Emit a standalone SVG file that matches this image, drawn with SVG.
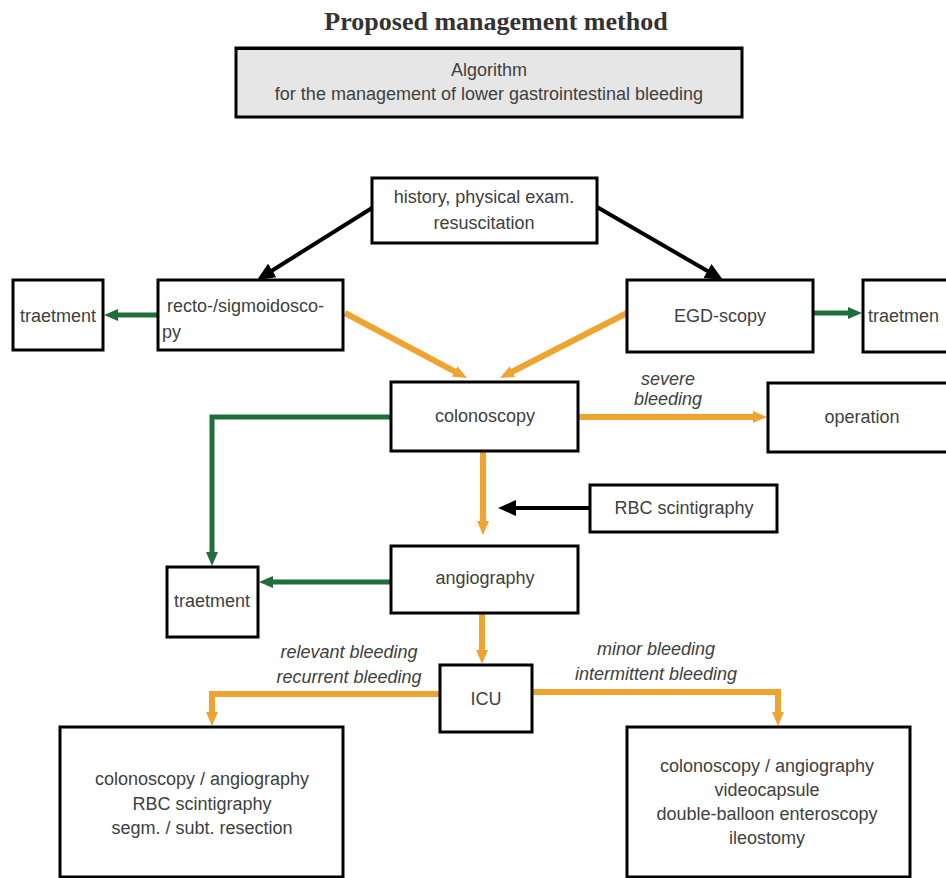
<svg xmlns="http://www.w3.org/2000/svg" width="946" height="878" viewBox="0 0 946 878">
<style>
.box{fill:#fff;stroke:#000;stroke-width:3}
.t{font-family:"Liberation Sans",Arial,sans-serif;font-size:18px;fill:#404040}
.c{text-anchor:middle}
.i{font-style:italic}
.title{font-family:"Liberation Serif","Times New Roman",serif;font-size:26px;font-weight:bold;fill:#333;text-anchor:middle}
.bk{stroke:#000;stroke-width:4;fill:none}
.gr{stroke:#1f6e3b;stroke-width:5;fill:none}
.or{stroke:#efa430;stroke-width:6;fill:none}
</style>
<defs>
<marker id="ab" markerWidth="18" markerHeight="16" refX="2" refY="8" orient="auto" markerUnits="userSpaceOnUse"><path d="M0,0 L18,8 L0,16 z" fill="#000"/></marker>
<marker id="ag" markerWidth="14" markerHeight="12" refX="2" refY="6" orient="auto" markerUnits="userSpaceOnUse"><path d="M0,0 L14,6 L0,12 z" fill="#1f6e3b"/></marker>
<marker id="ao" markerWidth="14" markerHeight="12" refX="2" refY="6" orient="auto" markerUnits="userSpaceOnUse"><path d="M0,0 L14,6 L0,12 z" fill="#efa430"/></marker>
</defs>
<rect width="946" height="878" fill="#fff"/>
<text class="title" x="496" y="30">Proposed management method</text>
<g id="algorithm">
<rect x="236" y="48" width="506" height="69" fill="#e6e6e6" stroke="#000" stroke-width="3"/>
<line x1="236" y1="49" x2="742" y2="49" stroke="#000" stroke-width="2"/>
<text class="t c" x="489" y="76">Algorithm</text>
<text class="t c" x="489" y="100">for the management of lower gastrointestinal bleeding</text>
</g>
<g id="connectors">
<line class="bk" x1="372" y1="208" x2="270.6" y2="271.5" marker-end="url(#ab)"/>
<line class="bk" x1="597" y1="207" x2="709.2" y2="272" marker-end="url(#ab)"/>
<line class="bk" x1="590" y1="508" x2="514" y2="508" marker-end="url(#ab)"/>
<line class="gr" x1="158" y1="315" x2="116" y2="315" marker-end="url(#ag)"/>
<line class="gr" x1="813" y1="313" x2="850" y2="313" marker-end="url(#ag)"/>
<polyline class="gr" points="391,417 212,417 212,554" marker-end="url(#ag)"/>
<line class="gr" x1="391" y1="582" x2="271" y2="582" marker-end="url(#ag)"/>
<line class="or" x1="345" y1="313" x2="456.4" y2="372.4" marker-end="url(#ao)"/>
<line class="or" x1="627" y1="313" x2="510.7" y2="372.5" marker-end="url(#ao)"/>
<line class="or" x1="578" y1="417" x2="755" y2="417" marker-end="url(#ao)"/>
<line class="or" x1="483" y1="451" x2="483" y2="523" marker-end="url(#ao)"/>
<line class="or" x1="482" y1="613" x2="482" y2="652" marker-end="url(#ao)"/>
<polyline class="or" points="440,694 212,694 212,714" marker-end="url(#ao)"/>
<polyline class="or" points="532,692 778,692 778,714" marker-end="url(#ao)"/>
<text class="t c i" x="668" y="385">severe</text>
<text class="t c i" x="668" y="405">bleeding</text>
<text class="t c i" x="349" y="658">relevant bleeding</text>
<text class="t c i" x="349" y="683">recurrent bleeding</text>
<text class="t c i" x="656" y="655">minor bleeding</text>
<text class="t c i" x="656" y="680">intermittent bleeding</text>
</g>
<g id="history">
<rect class="box" x="372" y="178" width="225" height="65"/>
<text class="t c" x="484" y="203">history, physical exam.</text>
<text class="t c" x="484" y="229">resuscitation</text>
</g>
<g id="recto">
<rect class="box" x="158" y="280" width="185" height="70"/>
<text class="t" x="167" y="312">recto-/sigmoidosco-</text>
<text class="t" x="162" y="338">py</text>
</g>
<g id="treatment-left">
<rect class="box" x="13" y="280" width="90" height="70"/>
<text class="t c" x="58" y="322">traetment</text>
</g>
<g id="egd">
<rect class="box" x="627" y="280" width="186" height="72"/>
<text class="t c" x="720" y="322">EGD-scopy</text>
</g>
<g id="treatment-right">
<rect class="box" x="863" y="280" width="90" height="72"/>
<text class="t" x="868" y="322">traetmen</text>
</g>
<g id="colonoscopy">
<rect class="box" x="391" y="382" width="187" height="69"/>
<text class="t c" x="485" y="422">colonoscopy</text>
</g>
<g id="operation">
<rect class="box" x="768" y="383" width="190" height="69"/>
<text class="t c" x="862" y="423">operation</text>
</g>
<g id="rbc">
<rect class="box" x="590" y="485" width="187" height="47"/>
<text class="t c" x="684" y="514">RBC scintigraphy</text>
</g>
<g id="angiography">
<rect class="box" x="391" y="546" width="187" height="67"/>
<text class="t c" x="485" y="584">angiography</text>
</g>
<g id="treatment-mid">
<rect class="box" x="167" y="567" width="91" height="70"/>
<text class="t c" x="212" y="607">traetment</text>
</g>
<g id="icu">
<rect class="box" x="440" y="665" width="92" height="67"/>
<text class="t c" x="486" y="705">ICU</text>
</g>
<g id="bottom-left">
<rect class="box" x="60" y="727" width="283" height="150"/>
<text class="t c" x="202" y="785">colonoscopy / angiography</text>
<text class="t c" x="202" y="810">RBC scintigraphy</text>
<text class="t c" x="202" y="834">segm. / subt. resection</text>
</g>
<g id="bottom-right">
<rect class="box" x="627" y="727" width="283" height="150"/>
<text class="t c" x="767" y="772">colonoscopy / angiography</text>
<text class="t c" x="767" y="796">videocapsule</text>
<text class="t c" x="767" y="820">double-balloon enteroscopy</text>
<text class="t c" x="767" y="844">ileostomy</text>
</g>
</svg>
